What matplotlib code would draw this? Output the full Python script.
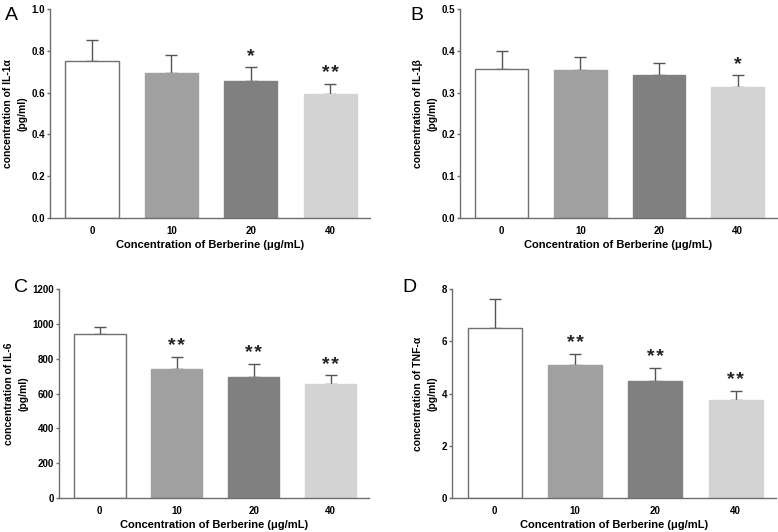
import matplotlib
matplotlib.use('Agg')
import matplotlib.pyplot as plt
import numpy as np

plt.rcParams['font.family'] = ['Liberation Sans', 'DejaVu Sans']

doses = ['0', '10', '20', '40']
bar_colors = ['#ffffff', '#a0a0a0', '#808080', '#d3d3d3']

il1a_mean = [0.75, 0.695, 0.655, 0.592]
il1a_err = [0.102, 0.087, 0.068, 0.048]
il1a_sig = ['', '', '*', '**']

il1b_mean = [0.356, 0.355, 0.343, 0.313]
il1b_err = [0.044, 0.030, 0.029, 0.030]
il1b_sig = ['', '', '', '*']

il6_mean = [940, 743, 697, 656]
il6_err = [42, 68, 72, 48]
il6_sig = ['', '**', '**', '**']

tnf_mean = [6.52, 5.09, 4.46, 3.76]
tnf_err = [1.08, 0.41, 0.53, 0.35]
tnf_sig = ['', '**', '**', '**']

W, H = 778, 532
panels = [
    # letter, ylabel, mean, err, sig, ymax, ystep, tick fmt, axes box px (left, top, right, bottom)
    ('A', 'concentration of IL-1\u03b1\n(pg/ml)', il1a_mean, il1a_err, il1a_sig,
     1.0, 0.2, '{:.1f}', (50, 9, 370, 218)),
    ('B', 'concentration of IL-1\u03b2\n(pg/ml)', il1b_mean, il1b_err, il1b_sig,
     0.5, 0.1, '{:.1f}', (460, 9, 777, 218)),
    ('C', 'concentration of IL-6\n(pg/ml)', il6_mean, il6_err, il6_sig,
     1200, 200, '{:.0f}', (59, 289, 369, 498)),
    ('D', 'concentration of TNF-\u03b1\n(pg/ml)', tnf_mean, tnf_err, tnf_sig,
     8, 2, '{:.0f}', (452, 289, 776, 498)),
]

fig = plt.figure(figsize=(W / 100, H / 100), dpi=100)
axis_col = '#6e6e6e'

for letter, ylab, mean, err, sig, ymax, ystep, fmt, box in panels:
    l, t, r, b = box
    ax = fig.add_axes([l / W, 1 - b / H, (r - l) / W, (b - t) / H])
    x = np.arange(len(doses))
    ax.errorbar(x, mean, yerr=[np.zeros(len(err)), err], fmt='none',
                ecolor='#555555', elinewidth=1, capsize=4.5, capthick=1, zorder=1)
    ax.bar(x, mean, width=0.67, color=bar_colors, zorder=2,
           edgecolor=['#707070'] + bar_colors[1:], linewidth=1)
    for xi, m, e, s in zip(x, mean, err, sig):
        if s:
            ax.text(xi, m + e + 0.028 * ymax, '\u200a'.join(s), ha='center',
                    va='baseline', fontsize=14, fontweight='bold',
                    color='#222222')
    ax.set_xlim(-0.53, 3.5)
    ax.set_ylim(0, ymax)
    yt = np.arange(0, ymax + ystep / 2, ystep)
    ax.set_yticks(yt)
    ax.set_yticklabels([fmt.format(v) for v in yt])
    ax.set_xticks(x)
    ax.set_xticklabels(doses)
    for sp in ['top', 'right']:
        ax.spines[sp].set_visible(False)
    for sp in ['left', 'bottom']:
        ax.spines[sp].set_color(axis_col)
        ax.spines[sp].set_linewidth(1)
    ax.tick_params(axis='y', length=2.5, width=1, color=axis_col, pad=1,
                   labelsize=7)
    ax.tick_params(axis='x', length=0, pad=6, labelsize=7)
    for lab in ax.get_xticklabels() + ax.get_yticklabels():
        lab.set_fontweight('bold')
    ax.set_ylabel(ylab, fontsize=7.5, fontweight='bold', labelpad=3,
                  linespacing=1.6)
    ax.set_xlabel('Concentration of Berberine (\u03bcg/mL)', fontsize=8,
                  fontweight='bold', labelpad=3)
    fig.text((l - 45) / W if letter in 'AC' else (l - 50) / W,
             1 - (t - 2) / H if letter in 'AB' else 1 - (t - 10) / H,
             letter, fontsize=14, va='top', ha='left')

fig.savefig('out.png', dpi=100)
